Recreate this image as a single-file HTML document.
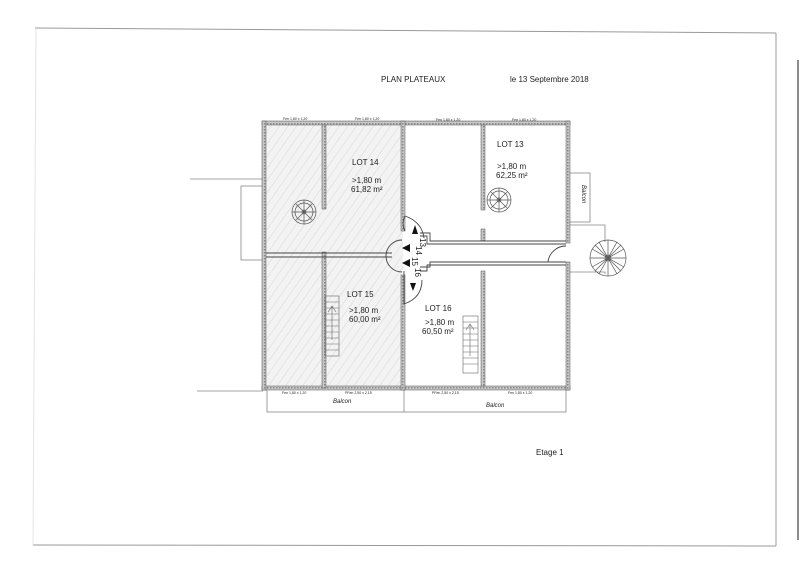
<!DOCTYPE html>
<html><head><meta charset="utf-8"><style>
html,body{margin:0;padding:0;background:#fff;width:800px;height:566px;overflow:hidden}
text{font-family:"Liberation Sans",sans-serif;fill:#222}
</style></head><body>
<svg width="800" height="566" viewBox="0 0 800 566" xmlns="http://www.w3.org/2000/svg">
<defs>
<pattern id="h" width="7" height="7" patternUnits="userSpaceOnUse" patternTransform="rotate(35)">
<rect width="7" height="7" fill="#f3f3f3"/><line x1="0" y1="0" x2="0" y2="7" stroke="#cfcfcf" stroke-width="0.8"/></pattern>
<pattern id="w" width="3" height="3" patternUnits="userSpaceOnUse"><rect width="3" height="3" fill="#c8c8c8"/><rect width="1.5" height="1.5" fill="#8a8a8a"/></pattern>
</defs>
<g stroke="#999" stroke-width="1" fill="none">
<line x1="35" y1="28" x2="776" y2="33"/>
<line x1="776" y1="33" x2="776" y2="546"/>
<line x1="33" y1="545" x2="776" y2="546"/>
<line x1="36" y1="28" x2="33" y2="545" stroke="#e4e4e4"/>
</g>
<line x1="798" y1="60" x2="798" y2="540" stroke="#666" stroke-width="1.5"/>
<text x="381" y="82" font-size="8">PLAN  PLATEAUX</text>
<text x="510" y="82" font-size="8">le 13 Septembre 2018</text>
<text x="536" y="455" font-size="8">Etage 1</text>
<rect x="263" y="123" width="140" height="265" fill="url(#h)"/>
<g stroke="#888" stroke-width="0.8" fill="none">
<line x1="190" y1="179" x2="263" y2="179"/>
<line x1="197" y1="391" x2="263" y2="391"/>
<rect x="241" y="186" width="22" height="74"/>
<rect x="568" y="173" width="22" height="49"/>
<polyline points="568,225 605,225 605,242"/>
<polyline points="568,272 605,272 605,274"/>
<rect x="267" y="388" width="299" height="24"/>
<line x1="404" y1="388" x2="404" y2="412"/>
</g>
<g fill="url(#w)" stroke="#555" stroke-width="0.5">
<rect x="262" y="121" width="308" height="4"/>
<rect x="262" y="386" width="308" height="4"/>
<rect x="262" y="121" width="4" height="269"/>
<rect x="566" y="121" width="4" height="122"/>
<rect x="566" y="262" width="4" height="128"/>
<rect x="401" y="121" width="4" height="110"/>
<rect x="401" y="275" width="4" height="115"/>
<rect x="322" y="125" width="4" height="84"/>
<rect x="322" y="252" width="4" height="136"/>
<rect x="481" y="125" width="4" height="85"/>
<rect x="481" y="229" width="4" height="12"/>
<rect x="481" y="271" width="4" height="115"/>
</g>
<g stroke="#444" stroke-width="0.9" fill="none">
<polyline points="266,253 392,253"/><polyline points="266,257 392,257"/>
<polyline points="420,233 430,233 430,241 566,241"/>
<polyline points="420,236 427,236 427,244 566,244"/>
<polyline points="420,267 430,267 430,262 566,262"/>
<polyline points="420,271 427,271 427,265 566,265"/>
<path d="M405,231 A16,16 0 0 1 405,216 Q422,222 424,238"/>
<path d="M404,271 L404,304 Q422,298 422,280"/>
<path d="M402,240 A16,16 0 0 0 402,272"/>
<path d="M566,246 A18,18 0 0 0 548,262"/>
</g>
<g fill="#111">
<polygon points="412,234 418,234 415,225"/>
<polygon points="410,283 416,283 413,291"/>
<polygon points="402,248 410,244 410,252"/>
<polygon points="402,263 410,259 410,267"/>
</g>
<g font-size="8" fill="#222">
<text x="420" y="238" transform="rotate(90 420 238)">13</text>
<text x="416" y="246" transform="rotate(90 416 246)">14</text>
<text x="412" y="257" transform="rotate(90 412 257)">15</text>
<text x="415" y="268" transform="rotate(90 415 268)">16</text>
</g>
<g stroke="#555" stroke-width="0.7" fill="none">
<circle cx="304" cy="212" r="12"/><circle cx="304" cy="212" r="9"/><circle cx="304" cy="212" r="2"/>
<circle cx="499" cy="200" r="12"/><circle cx="499" cy="200" r="9"/><circle cx="499" cy="200" r="2"/>
<circle cx="608" cy="258" r="18"/><circle cx="608" cy="258" r="3"/>
<path d="M304,200V224M292,212H316M296,204L312,220M312,204L296,220"/>
<path d="M499,188V212M487,200H511M491,192L507,208M507,192L491,208"/>
<path d="M608,240V276M590,258H626M595,245L621,271M621,245L595,271M599,242L617,274M617,242L599,274M592,249L624,267M624,249L592,267"/>
</g>
<g stroke="#666" stroke-width="0.6" fill="none">
<rect x="325" y="296" width="14" height="60"/>
<path d="M325,302h14M325,308h14M325,314h14M325,320h14M325,326h14M325,332h14M325,338h14M325,344h14M325,350h14M332,340V306M328,312L332,306L336,312"/>
<rect x="463" y="316" width="15" height="57"/>
<path d="M463,322h15M463,328h15M463,334h15M463,340h15M463,346h15M463,352h15M463,358h15M463,364h15M470,356V324M466,330L470,324L474,330"/>
</g>
<g font-size="8">
<text x="352" y="165">LOT 14</text>
<text x="352" y="183">&gt;1,80 m</text>
<text x="351" y="192">61,82 m²</text>
<text x="497" y="147">LOT 13</text>
<text x="497" y="169">&gt;1,80 m</text>
<text x="496" y="178">62,25 m²</text>
<text x="347" y="297">LOT 15</text>
<text x="349" y="313">&gt;1,80 m</text>
<text x="349" y="322">60,00 m²</text>
<text x="425" y="311">LOT 16</text>
<text x="425" y="325">&gt;1,80 m</text>
<text x="422" y="334">60,50 m²</text>
</g>
<g font-size="6" font-style="italic">
<text x="333" y="403">Balcon</text>
<text x="486" y="407">Balcon</text>
<text x="582" y="185" transform="rotate(90 582 185)">Balcon</text>
</g>
<g font-size="3.5" fill="#444">
<text x="283" y="120">Fen 1,80 x 1,20</text>
<text x="355" y="120">Fen 1,80 x 1,20</text>
<text x="436" y="121">Fen 1,80 x 1,20</text>
<text x="512" y="121">Fen 1,80 x 1,20</text>
<text x="282" y="394">Fen 1,80 x 1,20</text>
<text x="345" y="394">PFen 2,50 x 2,15</text>
<text x="432" y="394">PFen 2,50 x 2,15</text>
<text x="508" y="394">Fen 1,80 x 1,20</text>
</g>
</svg>
</body></html>
